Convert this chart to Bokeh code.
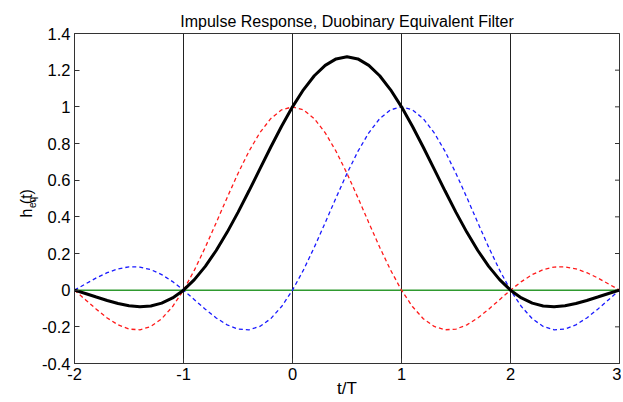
import math
from bokeh.plotting import figure
from bokeh.models import Range1d, FixedTicker, Label, ColumnDataSource
from bokeh.embed import file_html
from bokeh.resources import INLINE

# ---- data ----
t_values = [-2.0, -1.9, -1.8, -1.7, -1.6, -1.5, -1.4, -1.3, -1.2, -1.1,
            -1.0, -0.9, -0.8, -0.7, -0.6, -0.5, -0.4, -0.3, -0.2, -0.1,
            0.0, 0.1, 0.2, 0.3, 0.4, 0.5, 0.6, 0.7, 0.8, 0.9,
            1.0, 1.1, 1.2, 1.3, 1.4, 1.5, 1.6, 1.7, 1.8, 1.9,
            2.0, 2.1, 2.2, 2.3, 2.4, 2.5, 2.6, 2.7, 2.8, 2.9, 3.0]

h_red = [0.0, -0.0518, -0.1039, -0.1515, -0.1892, -0.2122, -0.2162, -0.1981, -0.1559, -0.0894,
         0.0, 0.1093, 0.2339, 0.3679, 0.5046, 0.6366, 0.7568, 0.8584, 0.9355, 0.9836,
         1.0, 0.9836, 0.9355, 0.8584, 0.7568, 0.6366, 0.5046, 0.3679, 0.2339, 0.1093,
         0.0, -0.0894, -0.1559, -0.1981, -0.2162, -0.2122, -0.1892, -0.1515, -0.1039, -0.0518,
         0.0, 0.0468, 0.0850, 0.1120, 0.1261, 0.1273, 0.1164, 0.0954, 0.0668, 0.0339, 0.0]

h_blue = [0.0, 0.0339, 0.0668, 0.0954, 0.1164, 0.1273, 0.1261, 0.1120, 0.0850, 0.0468,
          0.0, -0.0518, -0.1039, -0.1515, -0.1892, -0.2122, -0.2162, -0.1981, -0.1559, -0.0894,
          0.0, 0.1093, 0.2339, 0.3679, 0.5046, 0.6366, 0.7568, 0.8584, 0.9355, 0.9836,
          1.0, 0.9836, 0.9355, 0.8584, 0.7568, 0.6366, 0.5046, 0.3679, 0.2339, 0.1093,
          0.0, -0.0894, -0.1559, -0.1981, -0.2162, -0.2122, -0.1892, -0.1515, -0.1039, -0.0518, 0.0]

h_eq = [0.0, -0.0179, -0.0371, -0.0561, -0.0728, -0.0849, -0.0901, -0.0861, -0.0709, -0.0426,
        0.0, 0.0575, 0.1300, 0.2164, 0.3154, 0.4244, 0.5406, 0.6603, 0.7796, 0.8942,
        1.0, 1.0929, 1.1694, 1.2263, 1.2614, 1.2732, 1.2614, 1.2263, 1.1694, 1.0929,
        1.0, 0.8942, 0.7796, 0.6603, 0.5406, 0.4244, 0.3154, 0.2164, 0.1300, 0.0575,
        0.0, -0.0426, -0.0709, -0.0861, -0.0901, -0.0849, -0.0728, -0.0561, -0.0371, -0.0179, 0.0]

zero_line_x = [-2.0, 3.0]
zero_line_y = [0.0, 0.0]
vline_x = [-1, 0, 1, 2]

x_ticks = [-2, -1, 0, 1, 2, 3]
x_tick_labels = ["-2", "-1", "0", "1", "2", "3"]
y_ticks = [-0.4, -0.2, 0, 0.2, 0.4, 0.6, 0.8, 1.0, 1.2, 1.4]
y_tick_labels = ["-0.4", "-0.2", "0", "0.2", "0.4", "0.6", "0.8", "1", "1.2", "1.4"]
x_min, x_max = -2, 3
y_min, y_max = -0.4, 1.4

title_text = "Impulse Response, Duobinary Equivalent Filter"
x_label = "t/T"
y_label_main = "h   (t)"
y_label_sub = "eq"

FONT = "Liberation Sans"
AX = "#333333"

p = figure(width=621, height=400, output_backend="svg", toolbar_location=None,
           x_range=Range1d(x_min, x_max), y_range=Range1d(y_min, y_max),
           min_border_left=74, min_border_right=2, min_border_top=33, min_border_bottom=37)
p.grid.visible = False
p.background_fill_color = "white"
p.border_fill_color = "white"
p.outline_line_color = AX
p.outline_line_width = 1

p.title.text = title_text
p.title.align = "center"
p.title.text_font = FONT
p.title.text_font_size = "16px"
p.title.text_font_style = "normal"
p.title.text_color = "black"
p.title.standoff = 7

for ax, ticks, labels in ((p.xaxis[0], x_ticks, x_tick_labels), (p.yaxis[0], y_ticks, y_tick_labels)):
    ax.ticker = FixedTicker(ticks=ticks)
    ax.major_label_overrides = {tk: lb for tk, lb in zip(ticks, labels)}
    ax.major_tick_in = 5
    ax.major_tick_out = 0
    ax.minor_tick_line_color = None
    ax.axis_line_color = AX
    ax.major_tick_line_color = AX
    ax.major_label_text_font = FONT
    ax.major_label_text_font_size = "16.5px"
    ax.major_label_text_color = "black"
p.xaxis[0].major_label_standoff = 4
p.yaxis[0].major_label_standoff = 4

p.xaxis[0].axis_label = x_label
p.xaxis[0].axis_label_standoff = -4
p.xaxis[0].axis_label_text_font = FONT
p.xaxis[0].axis_label_text_font_size = "17px"
p.xaxis[0].axis_label_text_font_style = "normal"
p.xaxis[0].axis_label_text_color = "black"

# y label "h_eq(t)", rotated, as canvas-positioned labels held in the left side panel
for text, x, y, size in ((y_label_main, 26, 217, "16px"), (y_label_sub, 32, 207.5, "10px")):
    p.add_layout(Label(x=x, y=y, x_units="canvas", y_units="canvas", text=text, angle=math.pi / 2,
                       text_font=FONT, text_font_size=size, text_align="left",
                       text_baseline="alphabetic", text_color="black"), "left")

# inner ticks on the right and top edges (box style); half of each dash is clipped by the frame
p.scatter([x_max] * len(y_ticks), y_ticks, marker="dash", size=9, line_color=AX, line_width=1)
p.scatter(x_ticks, [y_max] * len(x_ticks), marker="dash", angle=math.pi / 2, size=9,
          line_color=AX, line_width=1)

# vertical reference lines
p.segment(x0=vline_x, y0=[y_min] * len(vline_x), x1=vline_x, y1=[y_max] * len(vline_x),
          line_color="#222222", line_width=1)

# zero line
p.line(zero_line_x, zero_line_y, line_color="#2f9a2f", line_width=1.5)

src = ColumnDataSource(dict(t=t_values, r=h_red, b=h_blue, e=h_eq))
p.line("t", "r", source=src, line_color="#ff1a1a", line_width=1.3, line_dash="4 3")
p.line("t", "b", source=src, line_color="#1a1aff", line_width=1.3, line_dash="4 3")
p.line("t", "e", source=src, line_color="black", line_width=3)

open("out.html", "w").write(file_html(p, INLINE))
